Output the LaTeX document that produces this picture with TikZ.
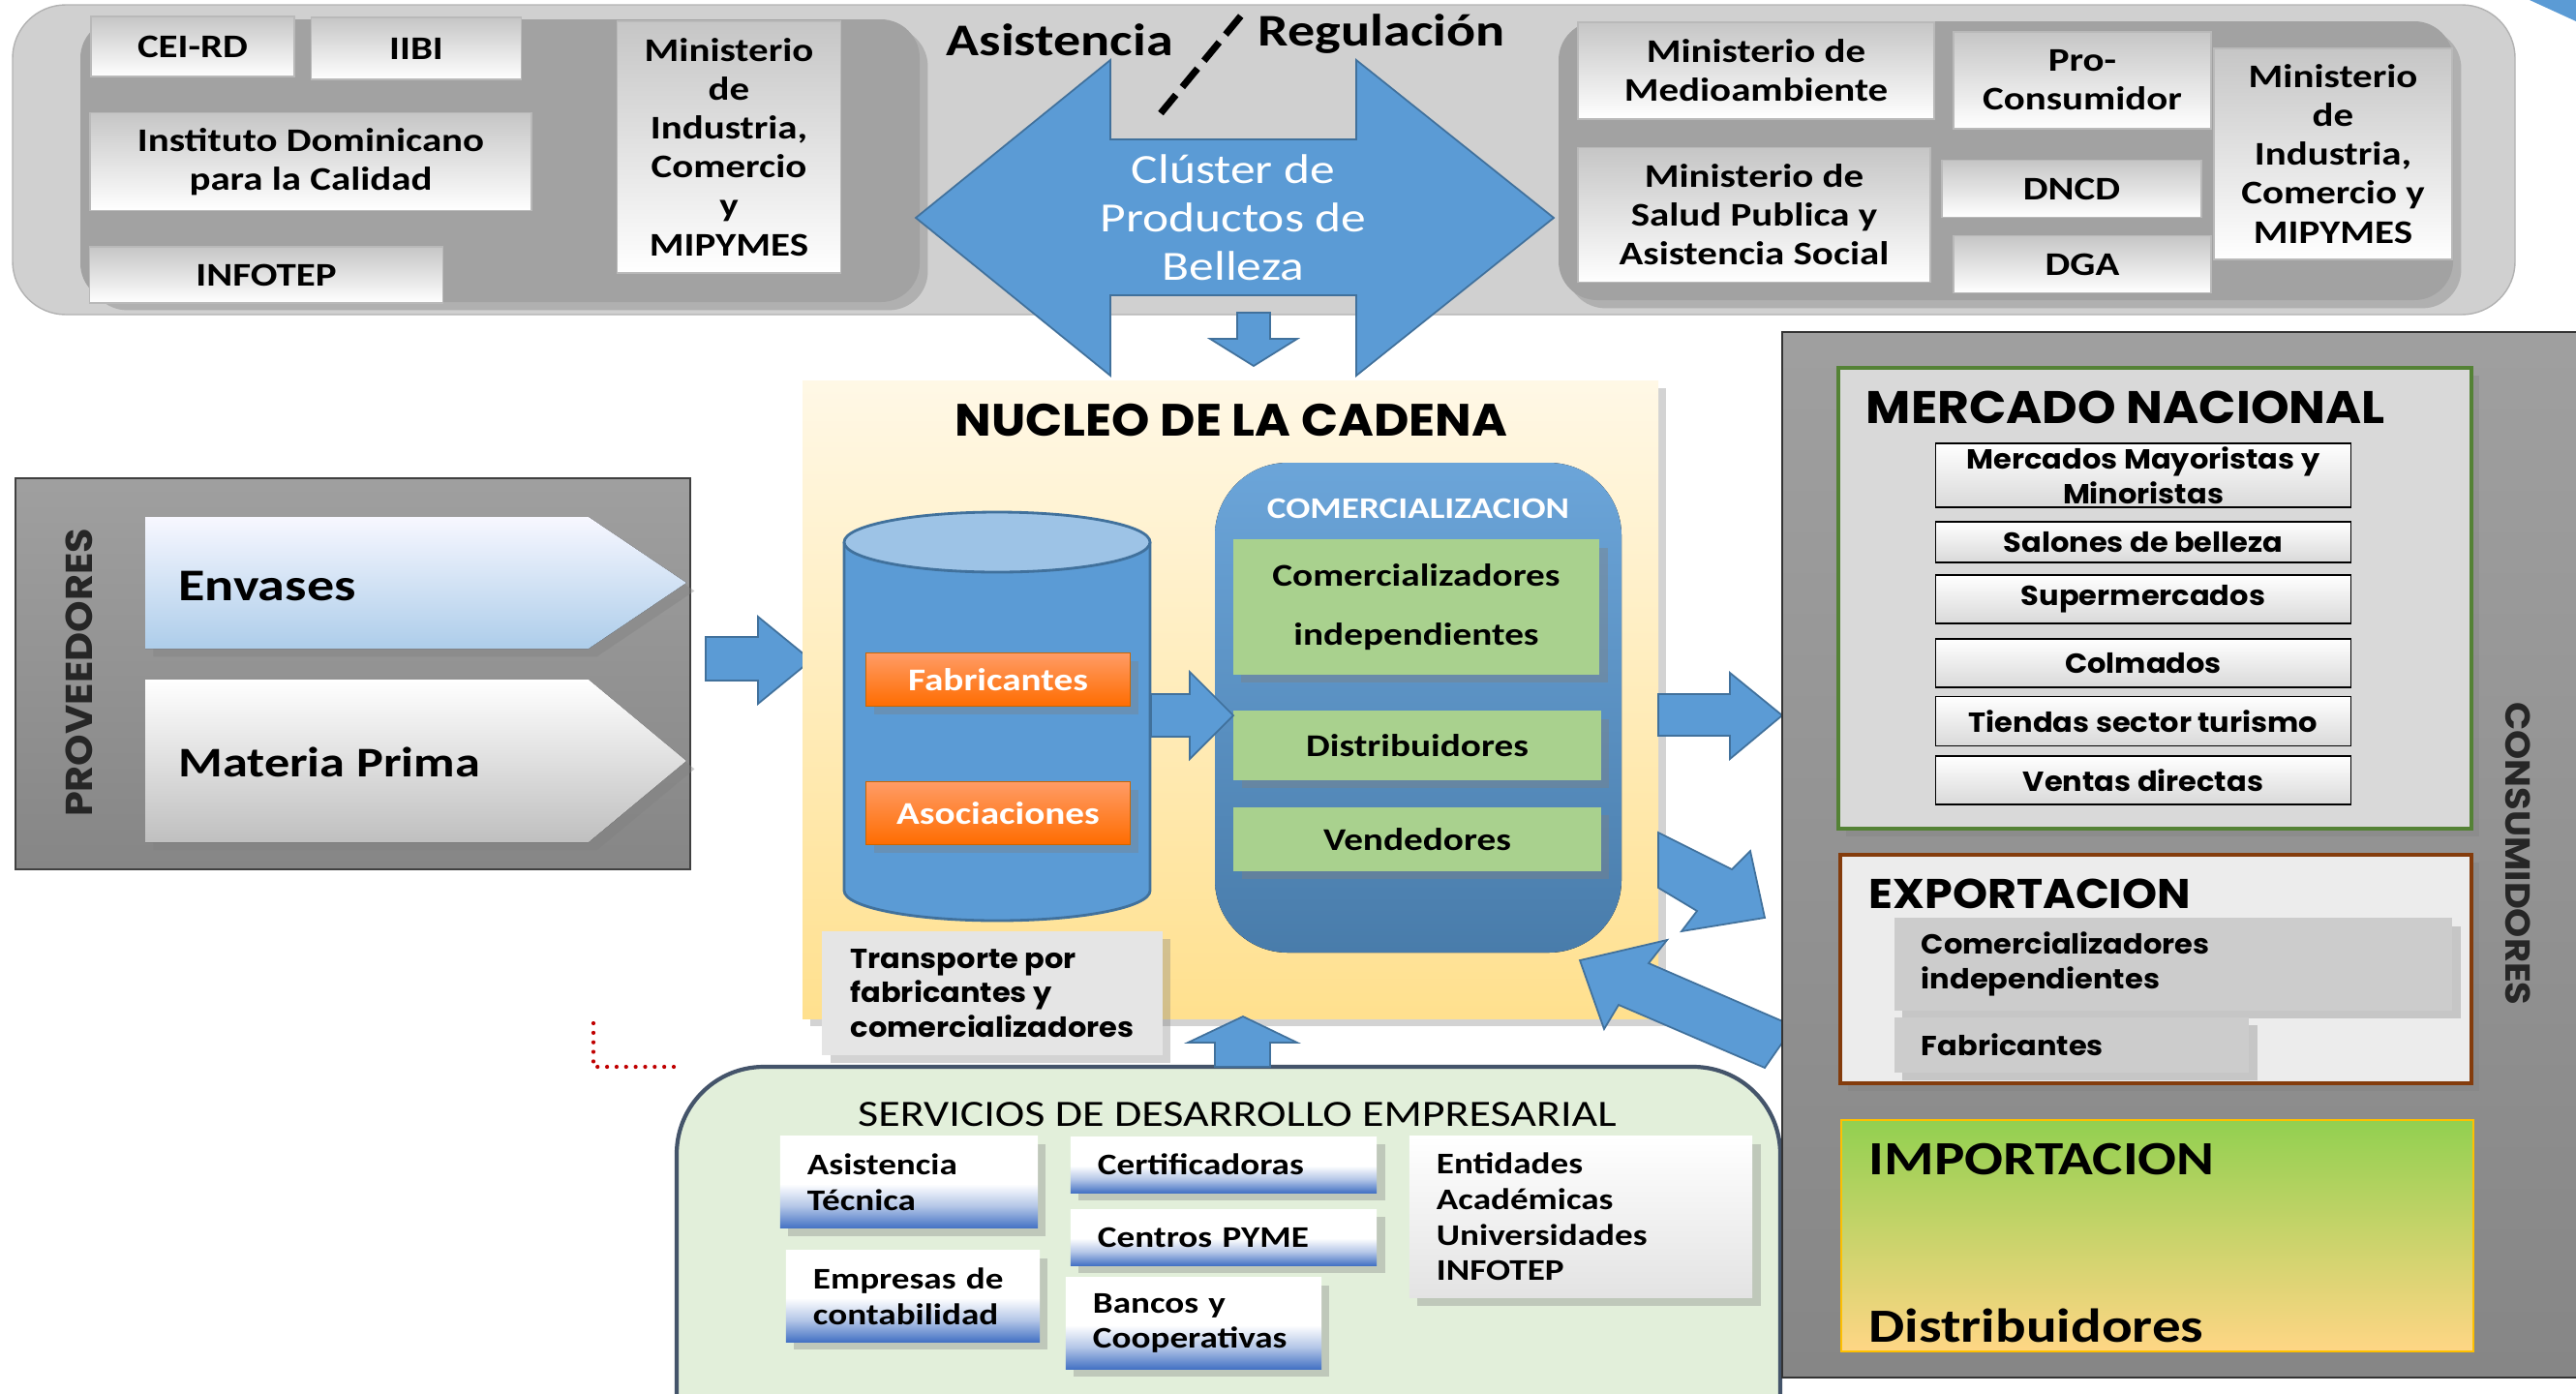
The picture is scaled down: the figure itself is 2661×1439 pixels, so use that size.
\documentclass[tikz,border=0pt]{standalone}
\usepackage{fontspec}
\setmainfont{Carlito}[FakeStretch=1.2]
\newfontfamily\gothic{Poppins}[FakeStretch=1.07]
\usetikzlibrary{shadows}

\definecolor{arrowblue}{HTML}{5B9BD5}
\definecolor{arrowedge}{HTML}{41719C}
\definecolor{bannergray}{HTML}{D0D0D0}
\definecolor{panelgray}{HTML}{A2A2A2}
\definecolor{svcblue}{HTML}{4472C4}
\definecolor{svcedge}{HTML}{44546A}
\definecolor{mintfill}{HTML}{E2EFDA}
\definecolor{leafgreen}{HTML}{A9D18E}
\definecolor{mktgreen}{HTML}{548235}
\definecolor{exportbrown}{HTML}{843C0C}
\definecolor{darkred}{HTML}{C00000}
\definecolor{importtop}{HTML}{92D050}
\definecolor{importbot}{HTML}{FFD685}
\definecolor{importedge}{HTML}{FFC000}
\definecolor{nucleotop}{HTML}{FFF8E6}
\definecolor{nucleobot}{HTML}{FFE08E}
\pgfdeclareverticalshading{svcshade}{100bp}{color(0bp)=(svcblue); color(25bp)=(svcblue); color(37bp)=(svcblue!40!white); color(49bp)=(white); color(100bp)=(white)}
\newcommand{\fsz}[2]{\fontsize{#1pt}{#2pt}\selectfont}

\begin{document}
\begin{tikzpicture}[x=0.01cm, y=-0.01cm,
  topbox/.style={draw=gray!55, top color=gray!45, bottom color=white, align=center, inner sep=0pt, font=\fsz{9.7}{11.4}\bfseries},
  blockarrow/.style={draw=arrowedge, fill=arrowblue, line width=0.5pt},
  orangebox/.style={draw=orange!80!black, top color=orange!70!red!60, bottom color=orange!85!red, text=white, font=\fsz{9.3}{11}\bfseries, drop shadow={opacity=0.35}},
  greenbox/.style={fill=leafgreen, align=center, font=\fsz{9.3}{17.4}\bfseries, drop shadow={opacity=0.4}},
  svcbox/.style={shading=svcshade, align=left, inner xsep=2.8mm, font=\fsz{8.8}{10.4}\bfseries, drop shadow={opacity=0.35}},
  mktbox/.style={draw=black, top color=white, bottom color=gray!30, align=center, inner sep=0pt, minimum width=42.9mm, font=\gothic\fsz{8.1}{10.2}\bfseries},
  expbox/.style={fill=gray!40, align=left, inner xsep=2.8mm, font=\gothic\fsz{8.1}{10.2}\bfseries, drop shadow={opacity=0.35}},
  bigtitle/.style={anchor=base west, inner sep=0pt, font=\gothic\fsz{13.4}{15}\bfseries}]
\useasboundingbox (0,0) rectangle (2661,1439);
\clip (0,0) rectangle (2661,1439);

% banner de arriba
\draw[gray!60, fill=bannergray, rounded corners=5.5mm] (13,5) rectangle (2598,325);
\fill[panelgray, rounded corners=4mm, drop shadow={opacity=0.4}] (83,20) rectangle (950,312);
\fill[panelgray, rounded corners=4mm, drop shadow={opacity=0.4}] (1610,22) rectangle (2534,310);
\fill[arrowblue] (2613,0) -- (2661,0) -- (2661,22) -- cycle;

% asistencia
\node[topbox, minimum width=21mm, minimum height=6.2mm] (ceird) at (199,48) {CEI-RD};
\node[topbox, minimum width=21.7mm, minimum height=6.4mm] (iibi) at (430,50) {IIBI};
\node[topbox, minimum width=45.6mm, minimum height=10.1mm] (idc) at (321,167) {Instituto Dominicano\\para la Calidad};
\node[topbox, minimum width=36.5mm, minimum height=5.8mm] (infotep) at (275,284) {INFOTEP};
\node[topbox, minimum width=23.1mm, minimum height=26mm] (micl) at (753,152) {Ministerio\\de\\Industria,\\Comercio\\y\\MIPYMES};

% regulacion
\node[topbox, minimum width=36.8mm, minimum height=10mm] (mma) at (1814,73) {Ministerio de\\Medioambiente};
\node[topbox, minimum width=26.6mm, minimum height=10mm] (procons) at (2151,83) {Pro-\\Consumidor};
\node[topbox, minimum width=36.4mm, minimum height=13.9mm] (msp) at (1812,222) {Ministerio de\\Salud Publica y\\Asistencia Social};
\node[topbox, minimum width=26.8mm, minimum height=5.9mm] (dncd) at (2140,195) {DNCD};
\node[topbox, minimum width=26.6mm, minimum height=5.9mm] (dga) at (2151,273) {DGA};
\node[topbox, minimum width=24.6mm, minimum height=21.8mm] (micr) at (2410,159) {Ministerio\\de\\Industria,\\Comercio y\\MIPYMES};

% cluster
\draw[blockarrow] (946,225) -- (1147,62) -- (1147,144) -- (1401,144) -- (1401,62) -- (1605,225)
  -- (1401,388) -- (1401,305) -- (1147,305) -- (1147,388) -- cycle;
\node[text=white, align=center, font=\fsz{12.2}{14.2}] (cluster) at (1274,225) {Clúster de\\Productos de\\Belleza};
\node[anchor=base west, inner sep=0pt, font=\fsz{13.3}{15}\bfseries] (asist) at (977,57) {Asistencia};
\node[anchor=base west, inner sep=0pt, font=\fsz{13.3}{15}\bfseries] (regul) at (1299,47) {Regulación};
\coordinate (slashlo) at (1199,117);
\coordinate (slashhi) at (1283,15);
\draw[line width=2pt, dash pattern=on 7pt off 3pt] (slashlo) -- (slashhi);
\draw[blockarrow] (1278,323) -- (1312,323) -- (1312,350) -- (1340,350) -- (1295,378) -- (1250,350) -- (1278,350) -- cycle;

% proveedores
\draw[black!75, top color=gray!75, bottom color=gray!95] (16,494) rectangle (713,898);
\fill[top color=blue!3, bottom color=arrowblue!50, drop shadow={opacity=0.4}] (150,534) -- (608,534) -- (709,602) -- (608,670) -- (150,670) -- cycle;
\fill[top color=white, bottom color=gray!50, drop shadow={opacity=0.4}] (150,702) -- (608,702) -- (709,786) -- (608,870) -- (150,870) -- cycle;
\node[anchor=west, font=\fsz{13.3}{15}\bfseries] (envases) at (172,605) {Envases};
\node[anchor=west, font=\fsz{12.4}{15}\bfseries] (materia) at (172,787) {Materia Prima};
\node[rotate=90, text=black!85, font=\gothic\fsz{11}{13}\bfseries] (prov) at (82,695) {PROVEEDORES};
\draw[blockarrow] (729,658) -- (783,658) -- (783,637) -- (838,682) -- (783,727) -- (783,703) -- (729,703) -- cycle;

% nucleo de la cadena
\fill[top color=nucleotop, bottom color=nucleobot, drop shadow={opacity=0.35}] (829,393) rectangle (1713,1052);
\node[font=\gothic\fsz{13.3}{15}\bfseries] (nucleo) at (1272,434) {NUCLEO DE LA CADENA};
\fill[arrowblue] (872,560) rectangle (1188,920);
\fill[arrowblue] (1030,920) ellipse [x radius=158, y radius=31];
\draw[arrowedge, line width=0.8pt] (872,560) -- (872,920) arc[start angle=180, end angle=0, x radius=158, y radius=31] -- (1188,560);
\draw[arrowedge, line width=0.8pt, fill=arrowblue!60!white] (1030,560) ellipse [x radius=158, y radius=31];
\node[orangebox, minimum width=27.3mm, minimum height=5.5mm] (fab) at (1031,702) {Fabricantes};
\node[orangebox, minimum width=27.3mm, minimum height=6.5mm] (asoc) at (1031,840) {Asociaciones};
\fill[top color=arrowblue!90!white, bottom color=arrowblue!80!black, rounded corners=7.5mm] (1255,478) rectangle (1675,984);
\node[text=white, font=\fsz{8.8}{10}\bfseries] (comerc) at (1465,525) {COMERCIALIZACION};
\node[greenbox, minimum width=37.8mm, minimum height=13.9mm] (ci) at (1463,627) {Comercializadores\\independientes};
\node[greenbox, minimum width=37.9mm, minimum height=7.1mm] (dist) at (1464,770) {Distribuidores};
\node[greenbox, minimum width=37.9mm, minimum height=6.6mm] (vend) at (1464,867) {Vendedores};
\draw[blockarrow] (1189,717) -- (1229,717) -- (1229,694) -- (1274,739) -- (1229,784) -- (1229,761) -- (1189,761) -- cycle;
\node[fill=gray!20, align=left, minimum width=35.1mm, minimum height=12.8mm, font=\gothic\fsz{8.1}{10.1}\bfseries, drop shadow={opacity=0.35}] (transp) at (1025,1026) {Transporte por\\fabricantes y\\comercializadores};

% flechas hacia consumidores
\draw[blockarrow] (1713,717) -- (1787,717) -- (1787,695) -- (1841,739) -- (1787,784) -- (1787,760) -- (1713,760) -- cycle;
\draw[blockarrow] (1713,860) -- (1789,898) -- (1808,879) -- (1823,948) -- (1737,962) -- (1753,941) -- (1713,917) -- cycle;
\draw[blockarrow] (1632,992) -- (1722,971) -- (1703,995) -- (1853,1060) -- (1823,1103) -- (1672,1038) -- (1657,1063) -- cycle;

% servicios de desarrollo empresarial
\draw[svcedge, line width=1.2pt, fill=mintfill, rounded corners=9mm] (699,1102) rectangle (1839,1530);
\draw[blockarrow] (1284,1050) -- (1340,1077) -- (1312,1077) -- (1312,1102) -- (1255,1102) -- (1255,1077) -- (1227,1077) -- cycle;
\node[font=\fsz{10.9}{12}] (sde) at (1278,1151) {SERVICIOS DE DESARROLLO EMPRESARIAL};
\node[svcbox, text width=21mm, minimum height=9.5mm] (asistec) at (939,1221) {Asistencia\\Técnica};
\node[svcbox, text width=26mm, minimum height=5.8mm] (certif) at (1264,1203) {Certificadoras};
\node[svcbox, text width=26mm, minimum height=5.8mm] (cpyme) at (1264,1278) {Centros PYME};
\node[svcbox, text width=20.6mm, minimum height=9.4mm] (empcont) at (943,1339) {Empresas de\\contabilidad};
\node[svcbox, text width=20.8mm, minimum height=9.4mm] (bancos) at (1233,1367) {Bancos y\\Cooperativas};
\node[svcbox, shading=axis, top color=white, bottom color=gray!22, text width=29.8mm, minimum height=16.7mm] (entid) at (1633,1257) {Entidades\\Académicas\\Universidades\\INFOTEP};
\coordinate (dotup) at (613,1057);
\coordinate (dotcorner) at (613,1102);
\coordinate (dotend) at (700,1102);
\draw[darkred, line width=1.2pt, line cap=round, dash pattern=on 0pt off 2.8pt] (dotup) -- (dotcorner) -- (dotend);

% consumidores
\draw[black!80, top color=gray!75, bottom color=gray!95] (1841,343) rectangle (2700,1423);
\draw[mktgreen, line width=1.2pt, fill=gray!30, drop shadow={opacity=0.35}] (1899,380) rectangle (2553,856);
\node[bigtitle] (mercado) at (1927,437) {MERCADO NACIONAL};
\node[mktbox, minimum height=6.6mm] (mayor) at (2214,491) {Mercados Mayoristas y\\Minoristas};
\node[mktbox, minimum height=4.2mm] (salones) at (2214,560) {Salones de belleza};
\node[mktbox, minimum height=5mm] (super) at (2214,619) {Supermercados};
\node[mktbox, minimum height=5mm] (colm) at (2214,685) {Colmados};
\node[mktbox, minimum height=5.1mm] (tiendas) at (2214,745) {Tiendas sector turismo};
\node[mktbox, minimum height=5mm] (ventas) at (2214,806) {Ventas directas};
\draw[exportbrown, line width=1.2pt, fill=gray!15, drop shadow={opacity=0.35}] (1901,883) rectangle (2553,1119);
\node[bigtitle, font=\gothic\fsz{12.2}{13}\bfseries] (export) at (1930,938) {EXPORTACION};
\node[expbox, text width=52mm, minimum height=9.5mm] (ci2) at (2245,996) {Comercializadores\\independientes};
\node[expbox, text width=31mm, minimum height=5.7mm] (fab2) at (2140,1079) {Fabricantes};
\draw[importedge, top color=importtop, bottom color=importbot] (1902,1157) rectangle (2555,1396);
\node[bigtitle, font=\fsz{14}{15}\bfseries] (import) at (1930,1213) {IMPORTACION};
\node[bigtitle, font=\fsz{14}{15}\bfseries] (distimp) at (1930,1386) {Distribuidores};
\node[rotate=-90, text=black!85, font=\gothic\fsz{10.2}{12}\bfseries] (cons) at (2601,882) {CONSUMIDORES};
\end{tikzpicture}
\end{document}
